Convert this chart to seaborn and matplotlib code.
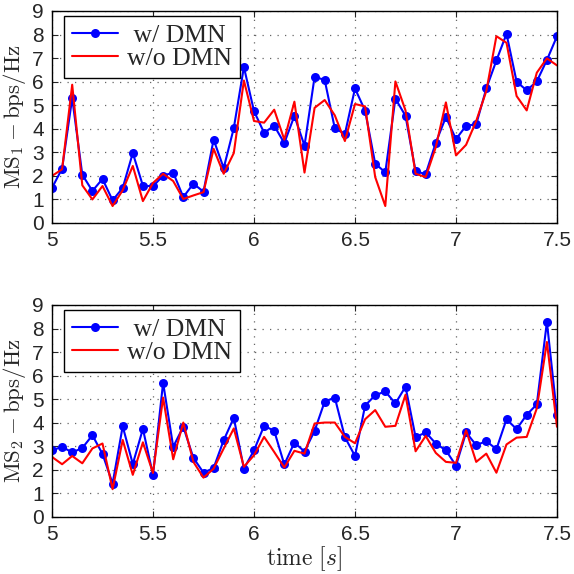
import numpy as np
import pandas as pd
import matplotlib
matplotlib.use("Agg")
import matplotlib.pyplot as plt
from matplotlib.ticker import FormatStrFormatter
import seaborn as sns

sns.set_style("white")
plt.rcParams['font.family'] = ['Liberation Serif', 'DejaVu Serif']
plt.rcParams['mathtext.fontset'] = 'cm'

time = [round(5 + 0.05 * i, 2) for i in range(51)]

ms1_with = [1.49, 2.31, 5.30, 2.05, 1.36, 1.87, 0.96, 1.49, 2.97, 1.58,
            1.56, 2.01, 2.14, 1.10, 1.67, 1.33, 3.54, 2.33, 4.03, 6.62,
            4.75, 3.83, 4.13, 3.39, 4.55, 3.28, 6.21, 6.07, 4.02, 3.78,
            5.71, 4.77, 2.52, 2.15, 5.28, 4.55, 2.19, 2.08, 3.41, 4.50,
            3.56, 4.13, 4.19, 5.71, 6.90, 8.03, 6.00, 5.63, 6.01, 6.92, 7.93]
ms1_without = [2.00, 2.28, 5.87, 1.60, 1.00, 1.57, 0.72, 1.39, 2.42, 0.93,
               1.70, 2.09, 1.78, 1.02, 1.17, 1.31, 3.15, 2.09, 2.97, 6.05,
               4.33, 4.26, 4.81, 3.54, 5.15, 2.14, 4.89, 5.22, 4.57, 3.48,
               5.05, 4.95, 1.95, 0.72, 6.01, 4.78, 2.09, 1.95, 3.22, 5.12,
               2.87, 3.32, 4.33, 5.60, 7.93, 7.65, 5.39, 4.78, 6.38, 6.99, 6.69]

ms2_with = [2.83, 2.98, 2.74, 2.93, 3.47, 2.68, 1.42, 3.85, 2.25, 3.74,
            1.79, 5.70, 2.98, 3.83, 2.51, 1.88, 2.08, 3.26, 4.21, 2.05,
            2.83, 3.87, 3.66, 2.23, 3.16, 2.78, 3.66, 4.90, 5.07, 3.39,
            2.59, 4.73, 5.17, 5.33, 4.82, 5.53, 3.39, 3.59, 3.12, 2.83,
            2.18, 3.59, 3.05, 3.22, 2.88, 4.15, 3.73, 4.34, 4.78, 8.28, 4.32]
ms2_without = [2.55, 2.24, 2.59, 2.28, 2.91, 3.12, 1.18, 3.27, 1.79, 3.17,
               1.87, 5.07, 2.45, 4.01, 2.34, 1.67, 2.05, 2.91, 3.76, 2.13,
               2.62, 3.40, 2.76, 2.10, 2.81, 2.69, 3.97, 4.01, 4.01, 3.40,
               3.13, 4.15, 4.54, 3.83, 3.87, 5.19, 2.79, 3.44, 2.72, 2.34,
               2.30, 3.68, 2.34, 2.69, 1.88, 3.08, 3.37, 3.40, 4.61, 7.43, 3.83]

legend_labels = [" w/ DMN", "w/o DMN"]
ylabels = [r"$\mathrm{MS}_1 - \mathrm{bps/Hz}$", r"$\mathrm{MS}_2 - \mathrm{bps/Hz}$"]
xlabel = r"$\mathrm{time}\ [s]$"
xticks = [5, 5.5, 6, 6.5, 7, 7.5]
yticks = list(range(0, 10))

fig = plt.figure(figsize=(5.74, 5.74), dpi=100)
W, H = 574, 574
ax1 = fig.add_axes([52 / W, 1 - 223 / H, 505 / W, 212 / H])
ax2 = fig.add_axes([52 / W, 1 - 517 / H, 505 / W, 212 / H])

for ax, yw, ywo, yl in [(ax1, ms1_with, ms1_without, ylabels[0]),
                        (ax2, ms2_with, ms2_without, ylabels[1])]:
    sns.lineplot(x=time, y=yw, ax=ax, color=(0, 0, 1), marker='o',
                 markersize=6.5, markeredgewidth=0, linewidth=1.5,
                 label=legend_labels[0])
    sns.lineplot(x=time, y=ywo, ax=ax, color=(1, 0, 0), linewidth=1.5,
                 label=legend_labels[1])
    ax.set_xlim(5, 7.5)
    ax.set_ylim(0, 9)
    ax.set_xticks(xticks)
    ax.set_yticks(yticks)
    ax.xaxis.set_major_formatter(FormatStrFormatter('%g'))
    ax.grid(True, linestyle=(0, (1, 5)), color='0.4', linewidth=0.9)
    ax.tick_params(direction='in', length=4, width=0.8, labelsize=15,
                   top=True, right=True, bottom=True, left=True, pad=6)
    for lab in ax.get_xticklabels() + ax.get_yticklabels():
        lab.set_family(['Liberation Sans', 'DejaVu Sans'])
    for s in ax.spines.values():
        s.set_color('black')
        s.set_linewidth(1.0)
    ax.set_ylabel(yl, fontsize=16.5, labelpad=3)
    ax.set_xlabel("")
    leg = ax.legend(loc='upper left', bbox_to_anchor=(0.024, 0.976),
                    borderaxespad=0, fontsize=18.5, frameon=True, fancybox=False,
                    edgecolor='black', handlelength=1.8,
                    borderpad=0.3, labelspacing=0.02, handletextpad=0.35)
    leg.get_frame().set_linewidth(1.0)
    leg.get_frame().set_alpha(1)

ax2.set_xlabel(xlabel, fontsize=17, labelpad=0)

fig.savefig("out.png", dpi=100)
